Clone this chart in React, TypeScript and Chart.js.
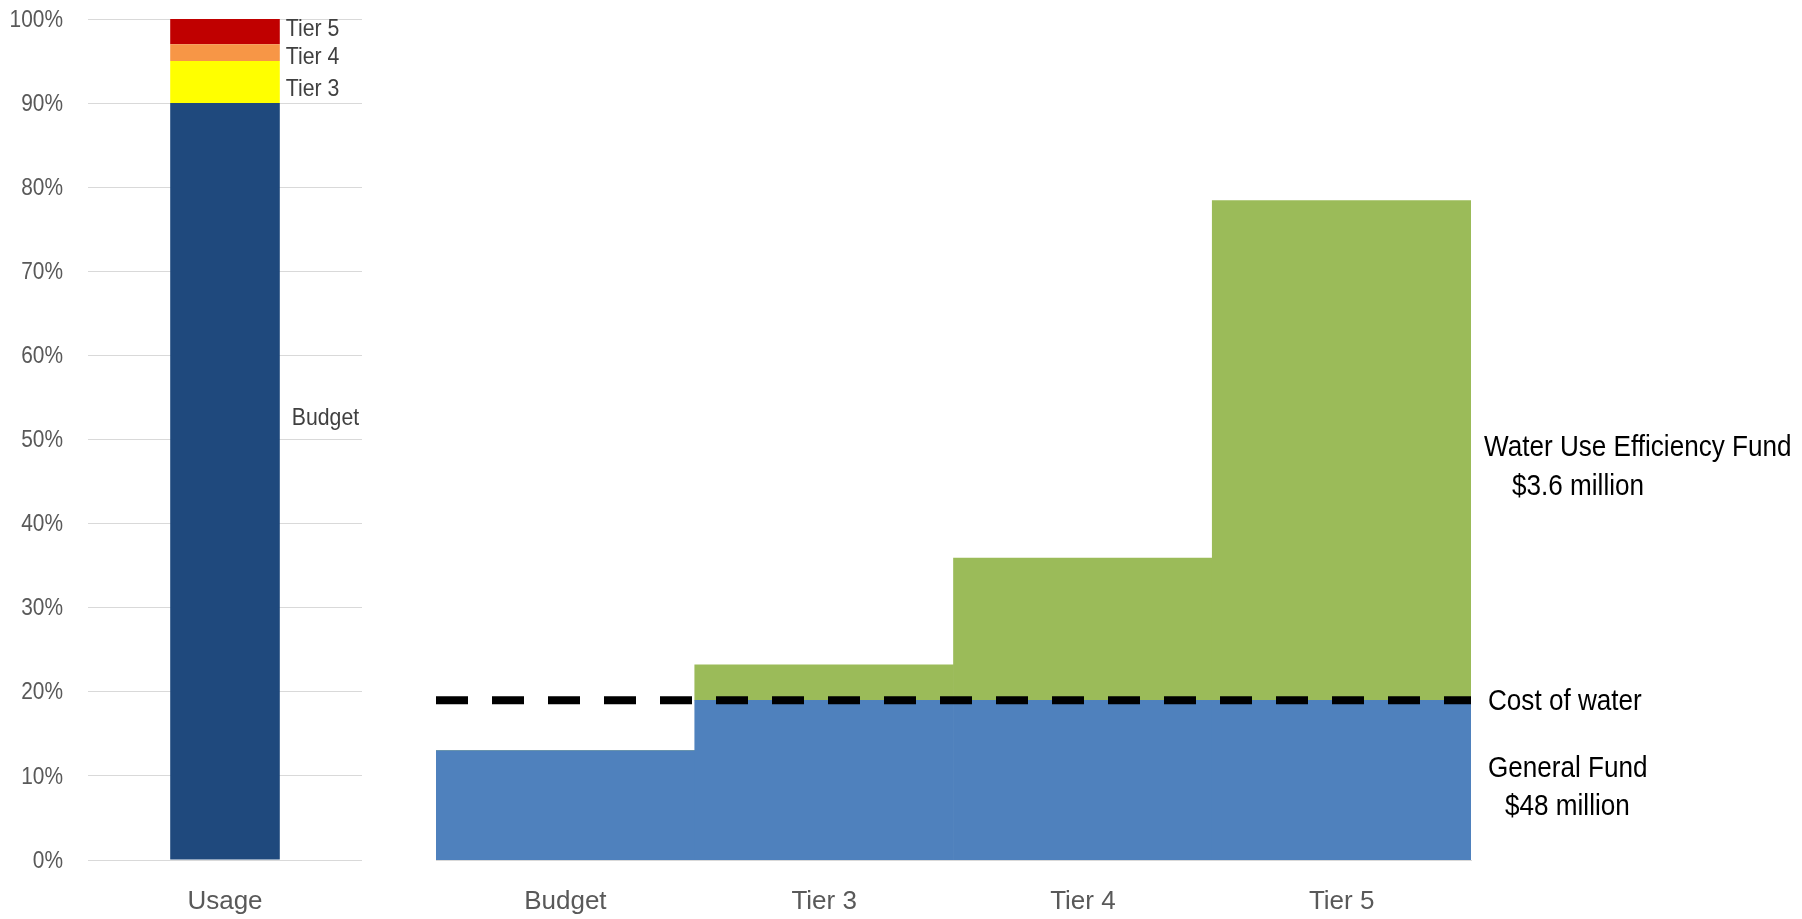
import React, { useEffect, useRef } from "react";
import { Chart, registerables } from "chart.js";

Chart.register(...registerables);

// ---------- data ----------
const usageCategories = ["Usage"];
const usageBudget = [90];
const usageTier3 = [5];
const usageTier4 = [2];
const usageTier5 = [3];
const yTickLabels = ["0%", "10%", "20%", "30%", "40%", "50%", "60%", "70%", "80%", "90%", "100%"];

const fundCategories = ["Budget", "Tier 3", "Tier 4", "Tier 5"];
const generalFund = [13, 19, 19, 19];
const efficiencyFund = [0, 4.2, 16.9, 59.4];
const costOfWater = 19;

// ---------- styles ----------
const FA = '"Liberation Sans", Arial, sans-serif';

function drawText(
  ctx: CanvasRenderingContext2D,
  text: string,
  x: number,
  y: number,
  size: number,
  color: string,
  sx: number,
  align: CanvasTextAlign = "left"
) {
  ctx.save();
  ctx.font = `${size}px ${FA}`;
  ctx.fillStyle = color;
  ctx.textBaseline = "middle";
  ctx.textAlign = align;
  ctx.translate(x, y);
  ctx.scale(sx, 1);
  ctx.fillText(text, 0, 0);
  ctx.restore();
}

const leftLabels = {
  id: "leftLabels",
  afterDraw(chart: any) {
    const { ctx, chartArea } = chart;
    const y = chart.scales.y;
    y.ticks.forEach((t: any, i: number) => {
      drawText(ctx, yTickLabels[i], chartArea.left - 25, y.getPixelForValue(t.value) + 1, 24, "#595959", 0.87, "right");
    });
    const bar = chart.getDatasetMeta(0).data[0];
    const right = bar.x + bar.width / 2;
    const items: [string, number, number][] = [
      ["Tier 5", 98.9, 6],
      ["Tier 4", 95.5, 6],
      ["Tier 3", 91.8, 6],
      ["Budget", 52.6, 12],
    ];
    for (const [t, v, dx] of items) {
      drawText(ctx, t, right + dx, y.getPixelForValue(v) + 1, 24, "#404040", 0.885);
    }
  },
};

const rightLabels = {
  id: "rightLabels",
  afterDraw(chart: any) {
    const { ctx, chartArea } = chart;
    const y = chart.scales.y;
    const r = chartArea.right;
    const items: [string, number, number][] = [
      ["Water Use Efficiency Fund", 49.0, 13],
      ["$3.6 million", 44.4, 41],
      ["Cost of water", 18.8, 17],
      ["General Fund", 10.9, 17],
      ["$48 million", 6.3, 34],
    ];
    for (const [t, v, dx] of items) {
      drawText(ctx, t, r + dx, y.getPixelForValue(v), 30, "#000000", 0.87);
    }
  },
};

export default function App() {
  const leftRef = useRef<HTMLCanvasElement>(null);
  const rightRef = useRef<HTMLCanvasElement>(null);

  useEffect(() => {
    const left = new Chart(leftRef.current!, {
      type: "bar",
      data: {
        labels: usageCategories,
        datasets: [
          { label: "Budget", data: usageBudget, backgroundColor: "#1f497d" },
          { label: "Tier 3", data: usageTier3, backgroundColor: "#ffff00" },
          { label: "Tier 4", data: usageTier4, backgroundColor: "#f79646" },
          { label: "Tier 5", data: usageTier5, backgroundColor: "#c00000" },
        ].map((d) => ({ ...d, borderWidth: 0, barPercentage: 0.4, categoryPercentage: 1 })),
      },
      options: {
        responsive: false,
        animation: false,
        layout: { padding: { left: 0, right: 38, top: 19, bottom: 0 } },
        plugins: { legend: { display: false }, tooltip: { enabled: false } },
        scales: {
          x: {
            stacked: true,
            grid: { display: false, drawTicks: false },
            border: { display: false },
            ticks: { color: "#595959", font: { family: FA, size: 26 }, padding: 26 },
            afterFit: (s: any) => { s.height = 59; },
          },
          y: {
            stacked: true,
            min: 0,
            max: 100,
            ticks: { stepSize: 10, display: false },
            grid: { color: "#d9d9d9", lineWidth: 1, drawTicks: false },
            border: { display: false },
            afterFit: (s: any) => { s.width = 88; },
          },
        },
      } as any,
      plugins: [leftLabels],
    });

    const right = new Chart(rightRef.current!, {
      type: "bar",
      data: {
        labels: fundCategories,
        datasets: [
          {
            label: "General Fund",
            data: generalFund,
            backgroundColor: "#4f81bd",
            borderWidth: 0,
            barPercentage: 1,
            categoryPercentage: 1,
            grouped: false,
            order: 1,
          },
          {
            label: "Water Use Efficiency Fund",
            data: efficiencyFund,
            backgroundColor: "#9bbb59",
            borderWidth: 0,
            barPercentage: 1,
            categoryPercentage: 1,
            grouped: false,
            order: 1,
          },
          {
            type: "line",
            label: "Cost of water",
            data: [{ x: 0, y: costOfWater }, { x: 4, y: costOfWater }],
            xAxisID: "x2",
            yAxisID: "y2",
            borderColor: "#000000",
            borderWidth: 8,
            borderDash: [32, 24],
            borderCapStyle: "butt",
            pointRadius: 0,
            fill: false,
            order: 0,
          } as any,
        ],
      },
      options: {
        responsive: false,
        animation: false,
        layout: { padding: { left: 36, right: 331, top: 19, bottom: 0 } },
        plugins: { legend: { display: false }, tooltip: { enabled: false } },
        scales: {
          x: {
            stacked: true,
            grid: { display: false, drawTicks: false },
            border: { display: true, color: "#d9d9d9", width: 1 },
            ticks: { color: "#595959", font: { family: FA, size: 26 }, padding: 26 },
            afterFit: (s: any) => { s.height = 59; },
          },
          x2: { type: "linear", display: false, offset: false, min: 0, max: 4 },
          y: { stacked: true, display: false, min: 0, max: 100 },
          y2: { type: "linear", display: false, min: 0, max: 100 },
        },
      } as any,
      plugins: [rightLabels],
    });

    return () => {
      left.destroy();
      right.destroy();
    };
  }, []);

  return (
    <div style={{ position: "absolute", left: 0, top: 0, width: 1802, height: 919, background: "#fff", overflow: "hidden" }}>
      <canvas ref={leftRef} width={400} height={919} style={{ position: "absolute", left: 0, top: 0, width: 400, height: 919 }} />
      <canvas ref={rightRef} width={1402} height={919} style={{ position: "absolute", left: 400, top: 0, width: 1402, height: 919 }} />
    </div>
  );
}
